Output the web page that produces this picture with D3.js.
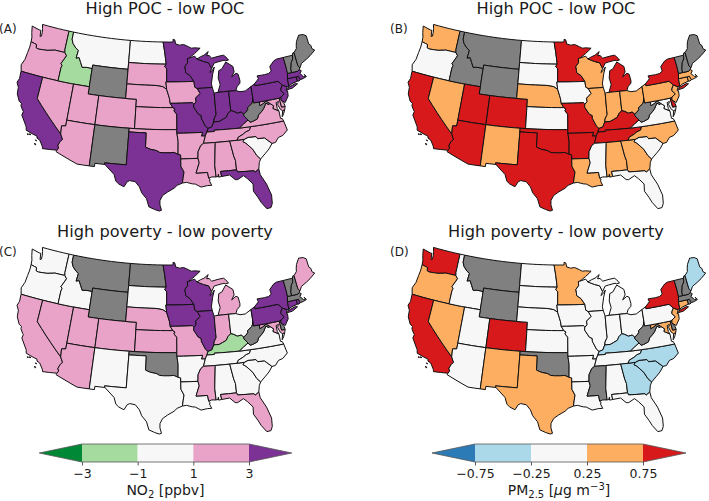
<!DOCTYPE html>
<html><head><meta charset="utf-8">
<script src="https://cdnjs.cloudflare.com/ajax/libs/d3/7.8.5/d3.min.js"></script>
<style>html,body{margin:0;padding:0;background:#fff}svg{display:block}text{font-family:"DejaVu Sans",sans-serif;fill:#1a1a1a}</style>
</head><body><svg id="c" width="709" height="501"></svg>
<script>
const stateNames=["WA","OR","CA","NV","ID","MT","WY","UT","AZ","CO","NM","ND","SD","NE","KS","OK","TX","MN","IA","MO","AR","LA","WI","IL","MI","IN","OH","KY","TN","MS","AL","GA","FL","SC","NC","VA","WV","MD","DE","PA","NJ","NY","CT","RI","MA","VT","NH","ME"];
// estimated state differences; null = not significant (grey)
const no2Poc=[2,2,4,2,-2,0,null,2,2,2,null,0,2,2,2,2,4,4,2,4,2,2,4,4,4,4,4,4,2,2,2,2,4,0,2,2,null,2,2,4,4,4,4,4,4,null,null,null];
const pmPoc=[.5,0,1,.5,null,null,null,1,1,1,.5,0,0,.5,0,1,1,1,0,1,1,.5,.5,.5,1,.5,.5,1,1,0,.5,.5,0,0,.5,0,null,0,1,.5,.5,1,.5,.5,.5,null,null,null];
const no2Pov=[0,0,2,2,0,null,null,2,2,2,0,null,0,2,2,null,0,4,4,2,0,0,4,4,2,2,0,-2,0,2,0,0,2,0,0,0,null,2,null,4,4,4,4,4,null,null,null,2];
const pmPov=[1,.5,1,.5,0,null,null,0,0,1,.5,0,0,0,0,null,.5,.5,0,0,0,0,0,0,0,0,0,-.5,0,null,0,-.5,0,-.5,-.5,0,null,.5,null,0,.5,1,.5,null,null,null,null,-.5];
const no2Ticks=[-3,-1,1,3];
const pmTicks=[-0.75,-0.25,0.25,0.75];
const no2Colors=["#008837","#a6dba0","#f7f7f7","#e9a3c9","#7b3294"];
const pmColors=["#2c7bb6","#abd9e9","#f7f7f7","#fdae61","#d7191c"];
const noValueColor="#808080";
const panelTitles=["High POC - low POC","High POC - low POC","High poverty - low poverty","High poverty - low poverty"];
const panelTags=["(A)","(B)","(C)","(D)"];

const shapes={
WA:[[[-124.7,48.38],[-123.1,48.15],[-122.75,48.15],[-122.55,47.3],[-122.3,47.4],[-122.35,47.95],[-122.5,48.45],[-122.75,49],[-117.03,49],[-117.04,46.42],[-116.92,45.99],[-118.98,46],[-119.3,45.93],[-120.5,45.7],[-121.2,45.65],[-122.2,45.57],[-122.7,45.65],[-122.8,46.1],[-123.2,46.15],[-124,46.27],[-124.1,46.9],[-124.4,47.5]]],
OR:[[[-124,46.27],[-123.2,46.15],[-122.8,46.1],[-122.7,45.65],[-122.2,45.57],[-121.2,45.65],[-120.5,45.7],[-119.3,45.93],[-118.98,46],[-116.92,45.99],[-116.46,45.6],[-116.85,44.95],[-117.2,44.4],[-116.9,44.15],[-117.03,43.8],[-117.03,42],[-124.21,42],[-124.55,42.84],[-124.15,43.7],[-124.05,44.7],[-123.95,45.5]]],
CA:[[[-124.21,42],[-120,42],[-120,39],[-114.63,35],[-114.14,34.3],[-114.45,34],[-114.72,33.4],[-114.52,33.03],[-114.72,32.72],[-117.12,32.53],[-117.25,32.85],[-117.9,33.6],[-118.4,33.75],[-118.5,34.03],[-119.2,34.15],[-120.5,34.45],[-120.65,34.9],[-121.9,36.3],[-121.8,36.8],[-122,36.96],[-122.5,37.5],[-122.5,37.8],[-123,38],[-123.7,38.9],[-123.85,39.8],[-124.35,40.4],[-124.1,41],[-124.2,41.75]],
[[-120.2,34],[-120.05,34.03],[-119.95,33.95],[-120.1,33.92]],[[-119.9,34.07],[-119.55,34.05],[-119.7,33.97]],[[-118.6,33.48],[-118.35,33.42],[-118.45,33.35]],[[-118.6,33.03],[-118.35,32.85],[-118.5,32.82]]],
NV:[[[-120,42],[-114.04,42],[-114.04,36.2],[-114.75,36.1],[-114.63,35],[-120,39]]],
ID:[[[-117.03,49],[-116.05,49],[-116.05,48],[-115.7,47.45],[-114.95,46.9],[-114.35,46.65],[-114.5,45.55],[-113.95,45.7],[-113.45,45.05],[-113,44.45],[-112.3,44.55],[-111.5,44.55],[-111.05,44.48],[-111.05,42],[-117.03,42],[-117.03,43.8],[-116.9,44.15],[-117.2,44.4],[-116.85,44.95],[-116.46,45.6],[-116.92,45.99],[-117.04,46.42]]],
MT:[[[-116.05,49],[-104.05,49],[-104.05,45],[-111.05,45],[-111.05,44.48],[-111.5,44.55],[-112.3,44.55],[-113,44.45],[-113.45,45.05],[-113.95,45.7],[-114.5,45.55],[-114.35,46.65],[-114.95,46.9],[-115.7,47.45],[-116.05,48]]],
WY:[[[-111.05,45],[-104.05,45],[-104.05,41],[-111.05,41]]],
UT:[[[-114.04,42],[-111.05,42],[-111.05,41],[-109.05,41],[-109.05,37],[-114.04,37]]],
CO:[[[-109.05,41],[-102.05,41],[-102.05,37],[-109.05,37]]],
AZ:[[[-114.04,37],[-109.05,37],[-109.05,31.33],[-111.07,31.33],[-114.81,32.5],[-114.72,32.72],[-114.52,33.03],[-114.72,33.4],[-114.45,34],[-114.14,34.3],[-114.63,35],[-114.75,36.1],[-114.04,36.2]]],
NM:[[[-109.05,37],[-103,37],[-103.04,32],[-106.62,32],[-106.53,31.78],[-108.2,31.78],[-108.2,31.33],[-109.05,31.33]]],
ND:[[[-104.05,49],[-97.23,49],[-96.85,47.5],[-96.56,45.94],[-104.05,45.94]]],
SD:[[[-104.05,45.94],[-96.56,45.94],[-96.85,45.6],[-96.45,45.3],[-96.45,43.5],[-96.6,43.5],[-96.45,42.5],[-97.2,42.85],[-98.5,43],[-104.05,43]]],
NE:[[[-104.05,43],[-98.5,43],[-97.2,42.85],[-96.45,42.5],[-96.1,41.7],[-95.9,41.2],[-95.77,40.58],[-95.3,40],[-102.05,40],[-102.05,41],[-104.05,41]]],
KS:[[[-102.05,40],[-95.3,40],[-94.9,39.8],[-95.1,39.55],[-94.6,39.1],[-94.62,37],[-102.05,37]]],
OK:[[[-103,37],[-94.62,37],[-94.62,36.5],[-94.43,35.4],[-94.48,33.64],[-95.2,33.9],[-96,33.85],[-96.9,33.85],[-97.6,33.9],[-98.1,34.13],[-99.2,34.3],[-100,34.56],[-100,36.5],[-103,36.5]]],
TX:[[[-103,36.5],[-100,36.5],[-100,34.56],[-99.2,34.3],[-98.1,34.13],[-97.6,33.9],[-96.9,33.85],[-96,33.85],[-95.2,33.9],[-94.48,33.64],[-94.04,33.55],[-94.04,33],[-94.04,32],[-93.55,31.2],[-93.7,30.5],[-93.85,29.7],[-94.7,29.4],[-95.2,29],[-96.2,28.5],[-97,28],[-97.4,27.3],[-97.4,26.7],[-97.15,25.96],[-97.5,25.85],[-98.2,26.05],[-99.1,26.4],[-99.5,27.5],[-100.3,28.3],[-100.7,29.1],[-101.4,29.77],[-102.3,29.88],[-102.7,29.7],[-103.15,28.98],[-104,29.3],[-104.5,29.65],[-104.9,30.55],[-106.53,31.78],[-106.62,32],[-103.04,32]]],
MN:[[[-97.23,49],[-95.15,49],[-95.15,49.38],[-94.8,49.3],[-94.6,48.72],[-93.8,48.55],[-92.95,48.62],[-92,48.3],[-91.4,48.07],[-90.75,48.1],[-89.6,48],[-90.8,47.3],[-92,46.7],[-92.29,46.67],[-92.29,46.07],[-92.85,45.6],[-92.75,45],[-92.75,44.75],[-91.9,44.3],[-91.22,43.5],[-96.45,43.5],[-96.45,45.3],[-96.85,45.6],[-96.56,45.94],[-96.85,47.5]]],
IA:[[[-96.6,43.5],[-91.22,43.5],[-91.1,42.7],[-90.65,42.5],[-90.15,41.8],[-91.05,41.2],[-91,40.7],[-91.42,40.38],[-91.7,40.6],[-95.77,40.58],[-95.9,41.2],[-96.1,41.7],[-96.45,42.5]]],
MO:[[[-95.77,40.58],[-91.7,40.6],[-91.42,40.38],[-91.5,40],[-90.7,39],[-90.2,38.8],[-90.2,38.4],[-89.55,37.3],[-89.13,36.98],[-89.4,36.5],[-89.7,36],[-90.37,36],[-90.15,36.5],[-94.62,36.5],[-94.62,37],[-94.6,39.1],[-95.1,39.55],[-94.9,39.8],[-95.3,40]]],
AR:[[[-94.62,36.5],[-90.15,36.5],[-90.37,36],[-89.7,36],[-90.1,35],[-90.6,34.7],[-91.1,33.9],[-91.17,33],[-94.04,33],[-94.04,33.55],[-94.48,33.64],[-94.43,35.4]]],
LA:[[[-94.04,33],[-91.17,33],[-91,32.4],[-91.6,31],[-89.73,31],[-89.6,30.2],[-89.4,30.05],[-89.5,29.8],[-89.2,29.2],[-89.9,29.2],[-90.9,29.05],[-91.8,29.5],[-92.3,29.55],[-93.2,29.78],[-93.85,29.7],[-93.7,30.5],[-93.55,31.2],[-94.04,32]]],
WI:[[[-92.29,46.67],[-92,46.7],[-90.8,46.95],[-90.4,46.55],[-89.1,46.14],[-88.1,45.9],[-87.6,45.1],[-88,44.55],[-87.4,44.9],[-87.05,45.25],[-87.5,44.3],[-87.9,43],[-87.8,42.5],[-90.65,42.5],[-91.1,42.7],[-91.22,43.5],[-91.9,44.3],[-92.75,44.75],[-92.75,45],[-92.85,45.6],[-92.29,46.07]]],
IL:[[[-90.65,42.5],[-87.8,42.5],[-87.53,41.7],[-87.53,39.35],[-87.5,38.8],[-87.95,38.2],[-88.05,37.8],[-88.45,37.15],[-89.13,36.98],[-89.55,37.3],[-90.2,38.4],[-90.2,38.8],[-90.7,39],[-91.5,40],[-91.42,40.38],[-91,40.7],[-91.05,41.2],[-90.15,41.8]]],
MI:[[[-86.8,41.76],[-84.8,41.76],[-83.45,41.73],[-83.1,42.25],[-82.5,42.65],[-82.42,43],[-82.6,43.9],[-83,44.07],[-83.9,43.65],[-83.3,44.3],[-83.4,45.05],[-84.7,45.78],[-85.1,45.4],[-85.6,44.9],[-86.25,44.7],[-86.5,43.7],[-86.25,42.8]],
[[-90.4,46.55],[-89.1,46.14],[-88.1,45.9],[-87.6,45.1],[-87,45.8],[-86.3,45.9],[-85,46.05],[-84.7,45.95],[-84.1,46],[-84.6,46.5],[-85,46.75],[-86.1,46.67],[-87.4,46.5],[-87.9,46.9],[-88.4,46.9],[-88,47.45],[-88.9,47],[-89.6,46.83]]],
IN:[[[-87.53,41.7],[-87.2,41.75],[-86.8,41.76],[-84.8,41.76],[-84.82,39.1],[-85.4,38.73],[-85.75,38.27],[-86.5,38],[-87.1,37.8],[-88.05,37.8],[-87.95,38.2],[-87.5,38.8],[-87.53,39.35]]],
OH:[[[-84.8,41.76],[-83.45,41.73],[-82.7,41.5],[-81.7,41.5],[-80.52,41.98],[-80.52,40.64],[-80.65,40],[-80.87,39.65],[-81.75,39.2],[-81.75,38.93],[-82.2,38.6],[-82.6,38.42],[-83,38.73],[-83.7,38.65],[-84.3,38.95],[-84.82,39.1]]],
KY:[[[-89.4,36.5],[-88.07,36.5],[-88.07,36.68],[-83.68,36.6],[-82.9,37.05],[-81.97,37.54],[-82.6,38.17],[-82.6,38.42],[-83,38.73],[-83.7,38.65],[-84.3,38.95],[-84.82,39.1],[-85.4,38.73],[-85.75,38.27],[-86.5,38],[-87.1,37.8],[-88.05,37.8],[-88.45,37.15],[-89.13,36.98]]],
TN:[[[-90.1,35],[-84.32,35],[-84.05,35.4],[-83.2,35.7],[-82.6,36],[-82,36.12],[-81.68,36.59],[-83.68,36.6],[-88.07,36.68],[-88.07,36.5],[-89.4,36.5],[-89.7,36]]],
MS:[[[-91.17,33],[-91.1,33.9],[-90.6,34.7],[-90.1,35],[-88.2,35],[-88.1,34.9],[-88.47,31.9],[-88.4,30.3],[-89.1,30.35],[-89.6,30.2],[-89.73,31],[-91.6,31],[-91,32.4]]],
AL:[[[-88.2,35],[-85.6,35],[-85.2,32.9],[-85,32.3],[-85,31],[-87.6,31],[-87.5,30.3],[-88,30.25],[-88,30.65],[-88.1,30.35],[-88.4,30.3],[-88.47,31.9],[-88.1,34.9]]],
GA:[[[-85.6,35],[-83.1,35],[-83.35,34.7],[-82.9,34.45],[-81.9,33.5],[-81.4,32.6],[-80.85,32.03],[-81.15,31.6],[-81.4,30.71],[-82.05,30.36],[-82.2,30.57],[-84.86,30.7],[-85,31],[-85,32.3],[-85.2,32.9]]],
FL:[[[-87.6,31],[-85,31],[-84.86,30.7],[-82.2,30.57],[-82.05,30.36],[-81.4,30.71],[-81.3,29.9],[-80.55,28.5],[-80.05,26.9],[-80.15,25.75],[-80.45,25.2],[-81.1,25.15],[-81.8,26.1],[-82.2,26.9],[-82.75,27.8],[-82.65,28.8],[-83.4,29.6],[-84,30.1],[-85,29.65],[-85.4,29.7],[-86.2,30.4],[-87.5,30.3]]],
SC:[[[-83.1,35],[-82.4,35.2],[-81.05,35.15],[-80.8,34.82],[-79.67,34.8],[-78.55,33.86],[-79.2,33.2],[-79.9,32.7],[-80.85,32.03],[-81.4,32.6],[-81.9,33.5],[-82.9,34.45],[-83.35,34.7]]],
NC:[[[-84.32,35],[-83.1,35],[-82.4,35.2],[-81.05,35.15],[-80.8,34.82],[-79.67,34.8],[-78.55,33.86],[-77.95,33.9],[-77.3,34.5],[-76.5,34.65],[-75.55,35.25],[-75.85,36.55],[-81.68,36.59],[-82,36.12],[-82.6,36],[-83.2,35.7],[-84.05,35.4]]],
VA:[[[-83.68,36.6],[-81.68,36.59],[-75.85,36.55],[-76,36.9],[-76.3,37],[-76.3,37.6],[-76.3,38],[-77.05,38.4],[-77.25,38.5],[-77.05,38.85],[-77.72,39.32],[-77.83,39.13],[-78.35,39.4],[-78.87,38.77],[-79.3,38.42],[-80,38],[-80.3,37.5],[-81.2,37.25],[-81.68,37.2],[-81.97,37.54],[-82.9,37.05]],
[[-75.95,37.15],[-75.65,37.95],[-75.25,38.03],[-75.6,37.5]]],
WV:[[[-82.6,38.42],[-82.6,38.17],[-81.97,37.54],[-81.68,37.2],[-81.2,37.25],[-80.3,37.5],[-80,38],[-79.3,38.42],[-78.87,38.77],[-78.35,39.4],[-77.83,39.13],[-77.72,39.32],[-78.2,39.68],[-78.45,39.55],[-79.48,39.2],[-79.48,39.72],[-80.52,39.72],[-80.52,40.64],[-80.65,40],[-80.87,39.65],[-81.75,39.2],[-81.75,38.93],[-82.2,38.6]]],
MD:[[[-79.48,39.72],[-75.79,39.72],[-75.7,38.46],[-75.05,38.45],[-75.25,38.03],[-75.65,37.95],[-76,38.2],[-76.3,38.9],[-76.05,39.3],[-76.5,39.2],[-76.5,38.4],[-76.3,38.05],[-77.05,38.4],[-77.25,38.5],[-77.05,38.85],[-77.72,39.32],[-78.2,39.68],[-78.45,39.55],[-79.48,39.2]]],
DE:[[[-75.79,39.72],[-75.42,39.8],[-75.55,39.45],[-75.1,38.8],[-75.05,38.45],[-75.7,38.46]]],
PA:[[[-80.52,41.98],[-80.52,39.72],[-79.48,39.72],[-75.79,39.72],[-75.42,39.8],[-74.7,40.15],[-75.2,40.68],[-75.05,41],[-74.7,41.36],[-75.35,42],[-79.76,42],[-79.76,42.27]]],
NJ:[[[-74.7,41.36],[-73.9,41],[-74.25,40.5],[-74,40.45],[-74.1,39.75],[-74.9,38.95],[-75.55,39.45],[-75.42,39.8],[-74.7,40.15],[-75.2,40.68],[-75.05,41]]],
NY:[[[-79.76,42.27],[-79.76,42],[-75.35,42],[-74.7,41.36],[-73.9,41],[-73.65,41],[-73.55,41.3],[-73.5,42.05],[-73.27,42.75],[-73.25,43.6],[-73.35,45.01],[-74.7,45],[-75.3,44.85],[-76.3,44.2],[-76.2,43.55],[-76.8,43.3],[-77.6,43.25],[-79.05,43.27],[-78.9,42.85]],
[[-74,40.6],[-73.75,40.85],[-72.3,41.15],[-71.9,41.05],[-73,40.65]]],
CT:[[[-73.5,42.05],[-71.8,42.02],[-71.8,41.4],[-72.9,41.25],[-73.65,41],[-73.55,41.3]]],
RI:[[[-71.8,42.02],[-71.38,42.02],[-71.2,41.5],[-71.5,41.37],[-71.8,41.4]]],
MA:[[[-73.5,42.05],[-73.27,42.75],[-72.46,42.73],[-71.3,42.7],[-70.95,42.88],[-70.6,42.65],[-71,42.3],[-70.65,42],[-70.5,41.78],[-70.1,41.8],[-70.25,42.07],[-69.95,41.7],[-70.6,41.55],[-71.2,41.5],[-71.38,42.02],[-71.8,42.02]]],
VT:[[[-73.35,45.01],[-71.5,45.01],[-71.6,44.5],[-72.05,44.1],[-72.45,43.2],[-72.46,42.73],[-73.27,42.75],[-73.25,43.6]]],
NH:[[[-71.5,45.01],[-71.3,45.3],[-71.05,45.3],[-70.98,43.4],[-70.7,43.07],[-70.95,42.88],[-71.3,42.7],[-72.46,42.73],[-72.45,43.2],[-72.05,44.1],[-71.6,44.5]]],
ME:[[[-71.05,45.3],[-70.4,45.75],[-70.25,46.2],[-70,46.7],[-69.23,47.46],[-69,47.43],[-68.3,47.35],[-67.8,47.07],[-67.78,45.9],[-67.45,45.6],[-67.45,45.15],[-67,44.85],[-68.2,44.3],[-69,44],[-70.2,43.6],[-70.7,43.07],[-70.98,43.4]]]
};

function densify(ring){const out=[];ring.forEach((p,i)=>{const q=ring[(i+1)%ring.length];out.push(p);const n=Math.floor(Math.abs(q[0]-p[0]));for(let k=1;k<n;k++){out.push([p[0]+(q[0]-p[0])*k/n,p[1]+(q[1]-p[1])*k/n]);}});return out;}
function closeRing(r){return r.concat([r[0]]);}
const features=stateNames.map((n,i)=>{
  const polys=shapes[n].map(r=>{
    let ring=closeRing(densify(r));
    if(d3.geoArea({type:"Polygon",coordinates:[ring]})>2*Math.PI) ring=ring.slice().reverse();
    return [ring];
  });
  return {type:"Feature",id:n,index:i,geometry:{type:"MultiPolygon",coordinates:polys}};
});

const projection=d3.geoAlbers().parallels([27,47]).rotate([96,0]).center([0,37.5]).scale(415).translate([169,126]);
const path=d3.geoPath(projection);
const svg=d3.select("#c");
const panelOffsets=[[0,0],[391,0],[0,223],[391,223]];
const panelValues=[no2Poc,pmPoc,no2Pov,pmPov];
const no2Scale=d3.scaleThreshold().domain(no2Ticks).range(no2Colors);
const pmScale=d3.scaleThreshold().domain(pmTicks).range(pmColors);
const panelScales=[no2Scale,pmScale,no2Scale,pmScale];

panelValues.forEach((vals,pi)=>{
  const [ox,oy]=panelOffsets[pi];
  const g=svg.append("g").attr("transform",`translate(${ox},${oy})`);
  g.selectAll("path").data(features).join("path")
    .attr("d",path)
    .attr("fill",d=>{const v=vals[d.index];return v===null?noValueColor:panelScales[pi](v);})
    .attr("stroke","#111").attr("stroke-width",1).attr("stroke-linejoin","round");
  g.append("text").attr("x",165).attr("y",13.5).attr("text-anchor","middle").attr("font-size",16.2).text(panelTitles[pi]);
  g.append("text").attr("x",-1).attr("y",33).attr("font-size",12).text(panelTags[pi]);
});

function colorbar(ticks,colors,xr,fmt,label){
  const x=d3.scaleLinear().domain([ticks[0],ticks[3]]).range(xr);
  const g=svg.append("g");
  const y0=444,y1=462,ext=(xr[1]-xr[0])*0.256;
  const ym=(y0+y1)/2;
  for(let i=0;i<3;i++){
    g.append("rect").attr("x",x(ticks[i])).attr("y",y0).attr("width",x(ticks[i+1])-x(ticks[i])).attr("height",y1-y0).attr("fill",colors[i+1]);
  }
  g.append("path").attr("d",d3.line()([[xr[0],y0],[xr[0]-ext,ym],[xr[0],y1]])).attr("fill",colors[0]);
  g.append("path").attr("d",d3.line()([[xr[1],y0],[xr[1]+ext,ym],[xr[1],y1]])).attr("fill",colors[4]);
  g.append("path").attr("fill","none").attr("stroke","#555").attr("stroke-width",0.8)
    .attr("d",d3.line()([[xr[0],y0],[xr[0]-ext,ym],[xr[0],y1],[xr[1],y1],[xr[1]+ext,ym],[xr[1],y0]])+"Z");
  const axis=d3.axisBottom(x).tickValues(ticks).tickFormat(fmt).tickSize(3.5).tickPadding(4);
  const ag=g.append("g").attr("transform",`translate(0,${y1})`).call(axis);
  ag.select(".domain").remove();
  ag.selectAll("text").attr("font-size",12.5).attr("font-family",'"DejaVu Sans"').attr("fill","#1a1a1a");
  ag.selectAll("line").attr("stroke","#333").attr("stroke-width",0.8);
  label(g.append("text").attr("x",(xr[0]+xr[1])/2).attr("y",495).attr("text-anchor","middle").attr("font-size",14));
}
const minus=s=>String(s).replace("-","\u2212");
colorbar(no2Ticks,no2Colors,[82,249],d=>minus(d),t=>{
  t.append("tspan").text("NO");
  t.append("tspan").attr("font-size",10).attr("dy",2.5).text("2");
  t.append("tspan").attr("dy",-2.5).text(" [ppbv]");
});
colorbar(pmTicks,pmColors,[475,643],d=>minus(d),t=>{
  t.append("tspan").text("PM");
  t.append("tspan").attr("font-size",10).attr("dy",2.5).text("2.5");
  t.append("tspan").attr("dy",-2.5).text(" [");
  t.append("tspan").attr("font-style","italic").text("\u03bc");
  t.append("tspan").text("g m");
  t.append("tspan").attr("font-size",10).attr("dy",-5).text("\u22123");
  t.append("tspan").attr("dy",5).text("]");
});
</script></body></html>
